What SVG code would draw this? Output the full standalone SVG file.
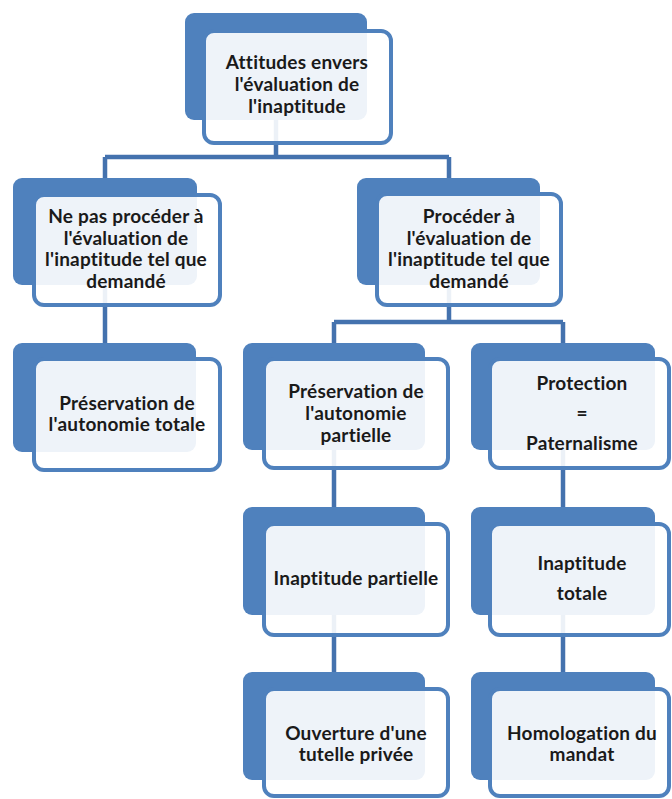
<svg xmlns="http://www.w3.org/2000/svg" width="672" height="799" viewBox="0 0 672 799">
<style>
.back{fill:#4F81BD}
.front{fill:#FFFFFF;fill-opacity:0.9;stroke:#4F81BD;stroke-width:4}
.conn{fill:none;stroke:#4472AE;stroke-width:4.5}
text{font-family:Lato,"Liberation Sans",sans-serif;font-size:19px;font-weight:bold;letter-spacing:0.2px;font-variant-ligatures:none;fill:#1A1A1A;text-anchor:middle}
</style>
<rect width="672" height="799" fill="#FFFFFF"/>
<g id="connectors">
<path class="conn" d="M276 120 V157 M105 157 H449 M105 157 V178 M449 157 V178"/>
<path class="conn" d="M105 285 V343"/>
<path class="conn" d="M449 285 V322 M334 322 H563 M334 322 V343 M563 322 V343"/>
<path class="conn" d="M334 450 V507 M563 450 V507"/>
<path class="conn" d="M334 615 V672 M563 615 V672"/>
</g>
<g id="n-attitudes">
<rect class="back" x="185" y="13" width="182" height="107" rx="9"/>
<rect class="front" x="204" y="31" width="187" height="112" rx="10"/>
<text x="297" y="69">Attitudes envers</text>
<text x="297" y="91">l'évaluation de</text>
<text x="297" y="113">l'inaptitude</text>
</g>
<g id="n-nepas">
<rect class="back" x="13" y="178" width="184" height="107" rx="9"/>
<rect class="front" x="34" y="195" width="186" height="110" rx="10"/>
<text x="126" y="223">Ne pas procéder à</text>
<text x="126" y="245">l'évaluation de</text>
<text x="126" y="266">l'inaptitude tel que</text>
<text x="126" y="288">demandé</text>
</g>
<g id="n-proceder">
<rect class="back" x="357" y="178" width="183" height="107" rx="9"/>
<rect class="front" x="377" y="194" width="184" height="111" rx="10"/>
<text x="469" y="223">Procéder à</text>
<text x="469" y="245">l'évaluation de</text>
<text x="469" y="266">l'inaptitude tel que</text>
<text x="469" y="288">demandé</text>
</g>
<g id="n-autonomie-totale">
<rect class="back" x="13" y="343" width="183" height="109" rx="9"/>
<rect class="front" x="34" y="359" width="186" height="111" rx="10"/>
<text x="127" y="410">Préservation de</text>
<text x="127" y="431">l'autonomie totale</text>
</g>
<g id="n-autonomie-partielle">
<rect class="back" x="243" y="343" width="182" height="107" rx="9"/>
<rect class="front" x="264" y="359" width="184" height="109" rx="10"/>
<text x="356" y="398">Préservation de</text>
<text x="356" y="420">l'autonomie</text>
<text x="356" y="442">partielle</text>
</g>
<g id="n-protection">
<rect class="back" x="471" y="343" width="184" height="107" rx="9"/>
<rect class="front" x="490" y="359" width="179" height="109" rx="10"/>
<text x="582" y="390">Protection</text>
<text x="582" y="420">=</text>
<text x="582" y="450">Paternalisme</text>
</g>
<g id="n-inaptitude-partielle">
<rect class="back" x="243" y="507" width="182" height="108" rx="9"/>
<rect class="front" x="264" y="524" width="184" height="111" rx="10"/>
<text x="356" y="585">Inaptitude partielle</text>
</g>
<g id="n-inaptitude-totale">
<rect class="back" x="471" y="507" width="184" height="108" rx="9"/>
<rect class="front" x="490" y="524" width="179" height="111" rx="10"/>
<text x="582" y="570">Inaptitude</text>
<text x="582" y="600">totale</text>
</g>
<g id="n-tutelle">
<rect class="back" x="243" y="672" width="182" height="108" rx="9"/>
<rect class="front" x="264" y="689" width="184" height="107" rx="10"/>
<text x="356" y="740">Ouverture d'une</text>
<text x="356" y="761">tutelle privée</text>
</g>
<g id="n-homologation">
<rect class="back" x="471" y="672" width="184" height="108" rx="9"/>
<rect class="front" x="490" y="689" width="179" height="107" rx="10"/>
<text x="582" y="740">Homologation du</text>
<text x="582" y="761">mandat</text>
</g>
</svg>
